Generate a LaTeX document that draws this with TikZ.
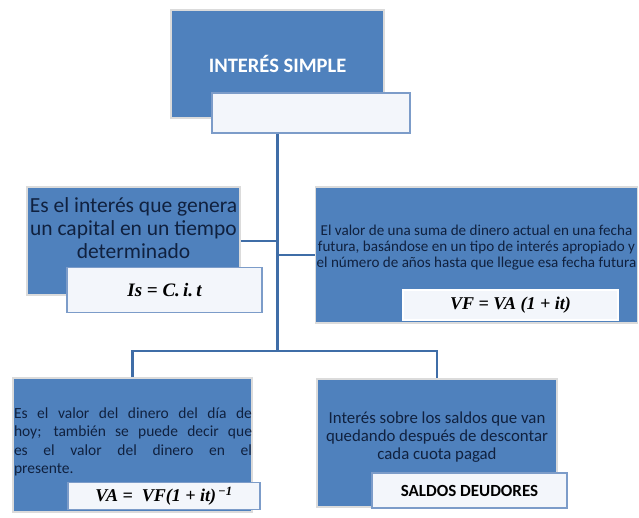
\documentclass[tikz,border=0pt]{standalone}
\usepackage{fontspec}
\setmainfont{Carlito}
\newfontfamily\formfont{Liberation Serif}
\definecolor{boxblue}{HTML}{4F81BD}
\definecolor{linkblue}{HTML}{3F6DA7}
\definecolor{paleface}{HTML}{F3F6FB}
\definecolor{paleedge}{HTML}{7C9CC9}
\definecolor{navytext}{HTML}{10213F}
\begin{document}
\begin{tikzpicture}[x=1pt,y=-1pt,
  bluebox/.style={fill=boxblue, draw=black!14, line width=1.6pt, inner sep=0pt},
  formbox/.style={fill=paleface, draw=paleedge, line width=1.6pt, inner sep=0pt},
  bodytext/.style={text=navytext, align=center, inner sep=0pt},
  link/.style={draw=linkblue, line width=2.2pt}]
\useasboundingbox (0,0) rectangle (639,517);
% top
\node[bluebox, minimum width=213pt, minimum height=108pt, text=white,
      font=\fontsize{20.5}{22}\selectfont\bfseries] (top) at (277.5,64) {INTERÉS SIMPLE};
\node[formbox, minimum width=198pt, minimum height=40pt] (topw) at (311,113) {};
% middle left
\node[bluebox, minimum width=213pt, minimum height=108pt] (lb) at (133.5,241) {};
\node[bodytext, font=\fontsize{21.5}{23}\selectfont] (lbt) at (133.5,228)
  {Es el interés que genera\\un capital en un tiempo\\determinado};
\node[formbox, minimum width=195pt, minimum height=45pt,
      font=\fontsize{19}{21}\formfont\bfseries\itshape] (lw) at (164.5,290) {Is = C.\,i.\,t};
% middle right
\node[bluebox, minimum width=322pt, minimum height=136pt] (rb) at (476.5,255) {};
\node[bodytext, font=\fontsize{15.1}{16}\selectfont] (rbt) at (476.5,248)
  {El valor de una suma de dinero actual en una fecha\\futura, basándose en un tipo de interés apropiado y\\el número de años hasta que llegue esa fecha futura};
\node[formbox, draw=white, minimum width=215pt, minimum height=30pt,
      font=\fontsize{18}{20}\formfont\bfseries\itshape] (rw) at (510.5,305) {VF = VA (1 + it)};
% bottom left
\node[bluebox, minimum width=239pt, minimum height=134pt] (blb) at (132.5,445) {};
\node[text=navytext, inner sep=0pt, align=left, font=\fontsize{15.5}{18.5}\selectfont] (blbt) at (133,442)
  {\makebox[238pt][s]{Es el valor del dinero del día de}\\
   \makebox[238pt][s]{hoy; también se puede decir que}\\
   \makebox[238pt][s]{es el valor del dinero en el}\\
   \makebox[238pt][l]{presente.}};
\node[formbox, minimum width=192pt, minimum height=27pt,
      font=\fontsize{18}{19}\formfont\bfseries\itshape] (blw) at (164,496) {VA =\ \ VF(1 + it)\textsuperscript{\,−1}};
% bottom right
\node[bluebox, minimum width=240pt, minimum height=128pt] (brb) at (437,443) {};
\node[bodytext, font=\fontsize{16.8}{18}\selectfont] (brbt) at (437,437)
  {Interés sobre los saldos que van\\quedando después de descontar\\cada cuota pagad};
\node[formbox, minimum width=195pt, minimum height=35pt,
      font=\fontsize{17}{19}\selectfont\bfseries] (brw) at (469.5,490.5) {SALDOS DEUDORES};
% connectors
\coordinate (jb) at (277.5,351);
\draw[link] (topw.south -| top.south) -- (jb);
\draw[link] (lb.east) -- (lb.east -| top.south);
\draw[link] (rb.west) -- (rb.west -| top.south);
\draw[link] (blb.north) |- (jb) -| (brb.north);
\end{tikzpicture}
\end{document}
